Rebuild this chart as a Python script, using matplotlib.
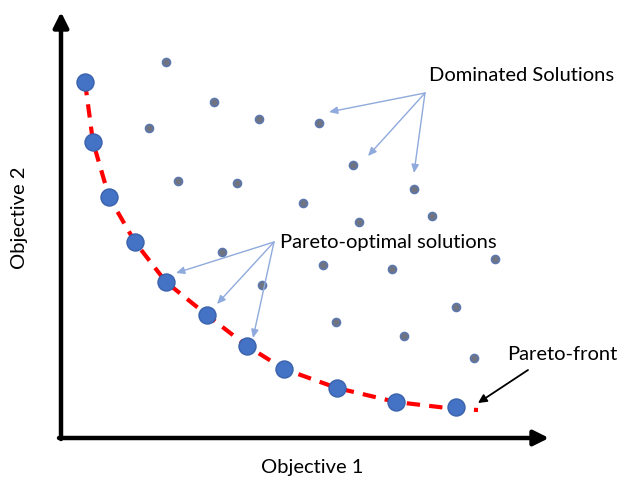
import matplotlib.pyplot as plt

# positions (image pixel units, y grows downward)
pareto_x = [85, 93, 109, 135, 166, 207, 247, 284, 337, 396, 456]
pareto_y = [82, 142, 197, 242, 282, 315, 346, 369, 388, 402, 407]

front_x = [85, 93, 109, 135, 166, 207, 247, 284, 337, 396, 456, 478]
front_y = [82, 142, 197, 242, 282, 315, 346, 369, 388, 402, 409, 410]

dominated_x = [166, 214, 149, 259, 319, 353, 178, 237, 414, 303, 432,
               359, 222, 323, 392, 495, 262, 456, 336, 404, 474]
dominated_y = [62, 102, 128, 119, 123, 165, 181, 183, 189, 203, 216,
               222, 252, 265, 269, 259, 285, 307, 322, 336, 358]

dom_label = 'Dominated Solutions'
dom_origin = (425, 93)
dom_tips = [(329, 112), (368, 156), (414, 173)]

opt_label = 'Pareto-optimal solutions'
opt_origin = (274, 242)
opt_tips = [(176, 273), (217, 304), (253, 338)]

front_label = 'Pareto-front'

plt.rcParams['font.family'] = ['Lato', 'DejaVu Sans']
fs = 14.5

fig = plt.figure(figsize=(6.26, 4.78), dpi=100)
ax = fig.add_axes([0, 0, 1, 1])
ax.set_xlim(0, 626)
ax.set_ylim(478, 0)
ax.axis('off')

# axes arrows
ax.annotate('', xy=(61, 12), xytext=(61, 439),
            arrowprops=dict(arrowstyle='-|>,head_length=0.9,head_width=0.45',
                            lw=3.2, color='black', shrinkA=0, shrinkB=0))
ax.annotate('', xy=(549, 438), xytext=(59, 438),
            arrowprops=dict(arrowstyle='-|>,head_length=0.9,head_width=0.45',
                            lw=3.2, color='black', shrinkA=0, shrinkB=0))

ax.text(312, 467, 'Objective 1', ha='center', va='center', fontsize=fs)
ax.text(20, 218, 'Objective 2', ha='center', va='center', fontsize=fs, rotation=90)

# pareto front curve
ax.plot(front_x, front_y, color='#FF0000', lw=3, dashes=(3.2, 2.2), zorder=2)

ax.scatter(dominated_x, dominated_y, s=34, color='#707480', edgecolors='#5A78B0',
           linewidths=1.1, zorder=3)
ax.scatter(pareto_x, pareto_y, s=150, color='#4472C4', edgecolors='#3A62AD',
           linewidths=1, zorder=4)

# annotation arrows
arrow_kw = dict(arrowstyle='-|>,head_length=0.5,head_width=0.22', lw=1,
                color='#8FAADC', shrinkA=0, shrinkB=0)
for tip in dom_tips:
    ax.annotate('', xy=tip, xytext=dom_origin, arrowprops=arrow_kw, zorder=5)
for tip in opt_tips:
    ax.annotate('', xy=tip, xytext=opt_origin, arrowprops=arrow_kw, zorder=5)

ax.text(429, 75, dom_label, ha='left', va='center', fontsize=fs)
ax.text(280, 242, opt_label, ha='left', va='center', fontsize=fs)
ax.text(507, 355, front_label, ha='left', va='center', fontsize=fs)

ax.annotate('', xy=(478, 403), xytext=(528, 370),
            arrowprops=dict(arrowstyle='-|>,head_length=0.5,head_width=0.25',
                            lw=1.3, color='black', shrinkA=0, shrinkB=0))

fig.savefig('out.png', dpi=100)
